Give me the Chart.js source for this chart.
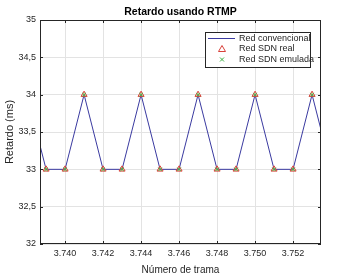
<!DOCTYPE html>
<html>
<head>
<meta charset="utf-8">
<script src="https://cdn.jsdelivr.net/npm/chart.js@4"></script>
<style>
  html, body { margin: 0; padding: 0; background: #fff; }
  canvas { display: block; }
</style>
</head>
<body>
<canvas id="grafico" width="341" height="277"></canvas>
<script>
// datos
var tramas = [3738, 3739, 3740, 3741, 3742, 3743, 3744, 3745, 3746, 3747, 3748, 3749, 3750, 3751, 3752, 3753, 3754];
var redConvencional = [34, 33, 33, 34, 33, 33, 34, 33, 33, 34, 33, 33, 34, 33, 33, 34, 33];
var sdnReal = [34, 33, 33, 34, 33, 33, 34, 33, 33, 34, 33, 33, 34, 33, 33, 34, 33];
var sdnEmulada = [34, 33, 33, 34, 33, 33, 34, 33, 33, 34, 33, 33, 34, 33, 33, 34, 33];
var ticksX = [3740, 3742, 3744, 3746, 3748, 3750, 3752];
var ticksY = [32, 32.5, 33, 33.5, 34, 34.5, 35];

var titulo = 'Retardo usando RTMP';
var nombres = ['Red convencional', 'Red SDN real', 'Red SDN emulada'];
var ejeColor = '#262626';
var fuente = 'Liberation Sans, Arial, sans-serif';

function puntos(valores) {
	var out = [];
	for (var i in tramas) {
		out.push({x: tramas[i], y: valores[i]});
	}
	return out;
}

// caja con marcas hacia dentro, estilo matlab
var caja = {
	id: 'caja',
	afterDatasetsDraw: function(chart) {
		var ctx = chart.ctx, a = chart.chartArea;
		var sx = chart.scales.x, sy = chart.scales.y;
		ctx.save();
		ctx.strokeStyle = ejeColor;
		ctx.lineWidth = 1;
		ctx.strokeRect(a.left + 0.5, a.top + 0.5, a.right - a.left - 1, a.bottom - a.top - 1);
		ctx.beginPath();
		ticksX.forEach(function(v) {
			var px = Math.round(sx.getPixelForValue(v)) + 0.5;
			ctx.moveTo(px, a.bottom); ctx.lineTo(px, a.bottom - 3);
			ctx.moveTo(px, a.top); ctx.lineTo(px, a.top + 3);
		});
		ticksY.forEach(function(v) {
			var py = Math.round(sy.getPixelForValue(v)) + 0.5;
			ctx.moveTo(a.left, py); ctx.lineTo(a.left + 3, py);
			ctx.moveTo(a.right, py); ctx.lineTo(a.right - 3, py);
		});
		ctx.stroke();

		// titulo centrado sobre el area de trazado
		ctx.fillStyle = '#000';
		ctx.font = 'bold 10.5px ' + fuente;
		ctx.textAlign = 'center';
		ctx.textBaseline = 'middle';
		ctx.fillText(titulo, (a.left + a.right) / 2, 12);
		ctx.restore();
	}
};

// leyenda dentro del area, arriba a la derecha
var leyenda = {
	id: 'leyenda',
	afterDraw: function(chart) {
		var ctx = chart.ctx;
		var x0 = 205, y0 = 32, w = 105, h = 35;
		ctx.save();
		ctx.fillStyle = '#fff';
		ctx.fillRect(x0, y0, w, h);
		ctx.strokeStyle = ejeColor;
		ctx.lineWidth = 1;
		ctx.strokeRect(x0 + 0.5, y0 + 0.5, w, h);

		var filas = [y0 + 6.5, y0 + 17, y0 + 27.5];
		ctx.strokeStyle = '#3a3aa0';
		ctx.beginPath();
		ctx.moveTo(x0 + 3, filas[0]); ctx.lineTo(x0 + 30, filas[0]);
		ctx.stroke();

		ctx.strokeStyle = '#d9413a';
		ctx.beginPath();
		ctx.moveTo(x0 + 17, filas[1] - 3.5);
		ctx.lineTo(x0 + 20.5, filas[1] + 2.5);
		ctx.lineTo(x0 + 13.5, filas[1] + 2.5);
		ctx.closePath();
		ctx.stroke();

		ctx.strokeStyle = '#3cb043';
		ctx.beginPath();
		ctx.moveTo(x0 + 15, filas[2] - 2); ctx.lineTo(x0 + 19, filas[2] + 2);
		ctx.moveTo(x0 + 19, filas[2] - 2); ctx.lineTo(x0 + 15, filas[2] + 2);
		ctx.stroke();

		ctx.fillStyle = ejeColor;
		ctx.font = '9px ' + fuente;
		ctx.textAlign = 'left';
		ctx.textBaseline = 'middle';
		for (var i = 0; i < nombres.length; i++) {
			ctx.fillText(nombres[i], x0 + 34, filas[i]);
		}
		ctx.restore();
	}
};

var ctx = document.getElementById('grafico');

var grafico = new Chart(ctx, {
	type: 'line',
	data: {
		datasets: [
			{
				label: nombres[0],
				data: puntos(redConvencional),
				borderColor: '#3a3aa0',
				borderWidth: 1,
				pointRadius: 0,
				tension: 0,
				order: 3
			},
			{
				label: nombres[1],
				data: puntos(sdnReal),
				showLine: false,
				pointStyle: 'triangle',
				pointRadius: 3.5,
				pointBorderWidth: 1,
				pointBorderColor: '#d9413a',
				pointBackgroundColor: 'rgba(230,190,110,0.35)',
				order: 2
			},
			{
				label: nombres[2],
				data: puntos(sdnEmulada),
				showLine: false,
				pointStyle: 'crossRot',
				pointRadius: 2.5,
				pointBorderWidth: 1,
				pointBorderColor: '#3cb043',
				order: 1
			}
		]
	},
	options: {
		responsive: false,
		animation: false,
		devicePixelRatio: 1,
		layout: { padding: { left: 0, right: 20, top: 20, bottom: 0 } },
		plugins: {
			legend: { display: false },
			tooltip: { enabled: false },
			title: { display: false }
		},
		scales: {
			x: {
				type: 'linear',
				min: 3738.68,
				max: 3753.47,
				afterBuildTicks: function(scale) {
					scale.ticks = ticksX.map(function(v) { return {value: v}; });
				},
				afterFit: function(scale) { scale.height = 33; },
				grid: { color: '#e3e3e3', drawTicks: false },
				border: { display: false },
				ticks: {
					color: ejeColor,
					padding: 4,
					maxRotation: 0,
					font: { family: fuente, size: 9 },
					callback: function(v) {
						var s = String(v);
						return s.slice(0, 1) + '.' + s.slice(1);
					}
				},
				title: {
					display: true,
					text: 'Número de trama',
					color: ejeColor,
					font: { family: fuente, size: 10 },
					padding: { top: 0, bottom: 1 }
				}
			},
			y: {
				min: 32,
				max: 35,
				afterBuildTicks: function(scale) {
					scale.ticks = ticksY.map(function(v) { return {value: v}; });
				},
				afterFit: function(scale) { scale.width = 40; },
				grid: { color: '#e3e3e3', drawTicks: false },
				border: { display: false },
				ticks: {
					color: ejeColor,
					padding: 4,
					font: { family: fuente, size: 9 },
					callback: function(v) { return String(v).replace('.', ','); }
				},
				title: {
					display: true,
					text: 'Retardo (ms)',
					color: ejeColor,
					font: { family: fuente, size: 11 },
					padding: { top: 3, bottom: 0 }
				}
			}
		}
	},
	plugins: [caja, leyenda]
});
</script>
</body>
</html>
